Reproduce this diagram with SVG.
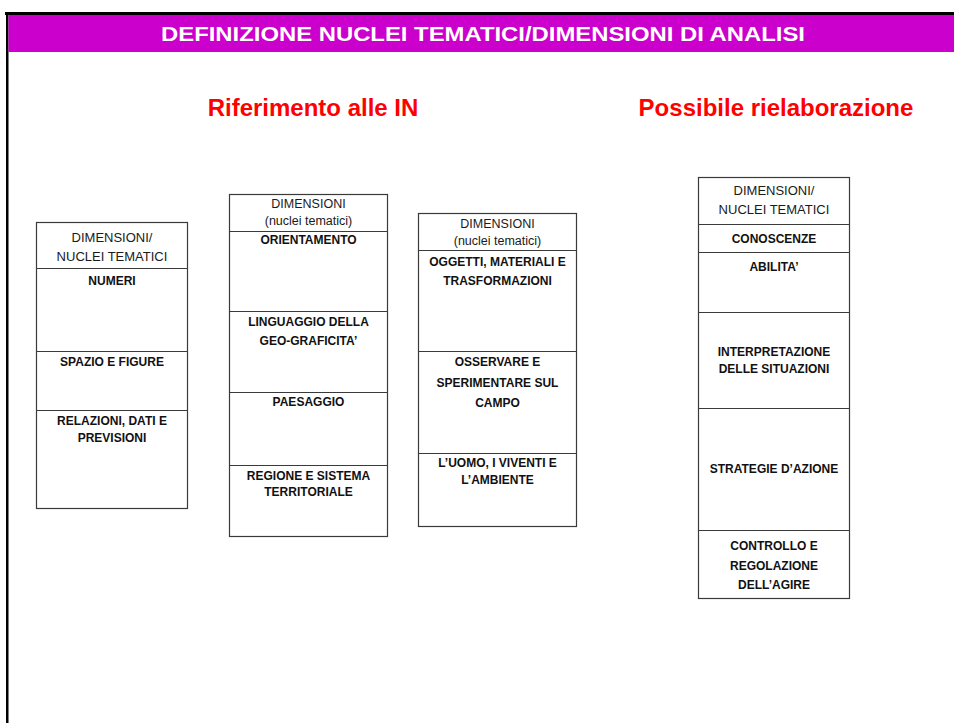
<svg xmlns="http://www.w3.org/2000/svg" width="954" height="723" viewBox="0 0 954 723">
<style>
.box{fill:#fff;stroke:#3a3a3a;stroke-width:1.2}
.div{stroke:#3a3a3a;stroke-width:1.2}
.h{font-family:"Liberation Sans",Arial,sans-serif;font-size:13px;fill:#1a1a1a;text-anchor:middle}
.hs{font-family:"Liberation Sans",Arial,sans-serif;font-size:12.5px;fill:#1a1a1a;text-anchor:middle}
.b{font-family:"Liberation Sans",Arial,sans-serif;font-size:12px;font-weight:bold;fill:#111;text-anchor:middle}
.t{font-family:"Liberation Sans",Arial,sans-serif;font-size:24px;font-weight:bold;fill:#ff0000;text-anchor:middle}
</style>
<rect x="0" y="0" width="954" height="723" fill="#fff"/>
<g id="frame">
<rect x="5" y="12" width="949" height="3" fill="#000"/>
<rect x="6" y="12" width="2.5" height="711" fill="#000"/>
<rect x="8.5" y="15" width="945.5" height="37" fill="#cc00cc"/>
<text x="483" y="41" font-family="Liberation Sans,Arial,sans-serif" font-size="21" font-weight="bold" fill="#fff" text-anchor="middle" textLength="644" lengthAdjust="spacingAndGlyphs">DEFINIZIONE NUCLEI TEMATICI/DIMENSIONI DI ANALISI</text>
</g>
<g id="title-left"><text class="t" x="313" y="116">Riferimento alle IN</text></g>
<g id="title-right"><text class="t" x="776" y="116">Possibile rielaborazione</text></g>

<g id="table1">
<rect class="box" x="36.5" y="222.5" width="151" height="286"/>
<line class="div" x1="36.5" y1="268.5" x2="187.5" y2="268.5"/>
<line class="div" x1="36.5" y1="351.5" x2="187.5" y2="351.5"/>
<line class="div" x1="36.5" y1="410.5" x2="187.5" y2="410.5"/>
<text class="h" x="112" y="242">DIMENSIONI/</text>
<text class="h" x="112" y="261">NUCLEI TEMATICI</text>
<text class="b" x="112" y="285">NUMERI</text>
<text class="b" x="112" y="366">SPAZIO E FIGURE</text>
<text class="b" x="112" y="425">RELAZIONI, DATI E</text>
<text class="b" x="112" y="442">PREVISIONI</text>
</g>

<g id="table2">
<rect class="box" x="229.5" y="194.5" width="158" height="342"/>
<line class="div" x1="229.5" y1="231.5" x2="387.5" y2="231.5"/>
<line class="div" x1="229.5" y1="311.5" x2="387.5" y2="311.5"/>
<line class="div" x1="229.5" y1="392.5" x2="387.5" y2="392.5"/>
<line class="div" x1="229.5" y1="465.5" x2="387.5" y2="465.5"/>
<text class="hs" x="308.5" y="208">DIMENSIONI</text>
<text class="hs" x="308.5" y="225">(nuclei tematici)</text>
<text class="b" x="308.5" y="244">ORIENTAMENTO</text>
<text class="b" x="308.5" y="326">LINGUAGGIO DELLA</text>
<text class="b" x="308.5" y="345">GEO-GRAFICITA’</text>
<text class="b" x="308.5" y="406">PAESAGGIO</text>
<text class="b" x="308.5" y="480">REGIONE E SISTEMA</text>
<text class="b" x="308.5" y="496">TERRITORIALE</text>
</g>

<g id="table3">
<rect class="box" x="418.5" y="213.5" width="158" height="313"/>
<line class="div" x1="418.5" y1="250.5" x2="576.5" y2="250.5"/>
<line class="div" x1="418.5" y1="351.5" x2="576.5" y2="351.5"/>
<line class="div" x1="418.5" y1="453.5" x2="576.5" y2="453.5"/>
<text class="hs" x="497.5" y="228">DIMENSIONI</text>
<text class="hs" x="497.5" y="245">(nuclei tematici)</text>
<text class="b" x="497.5" y="266">OGGETTI, MATERIALI E</text>
<text class="b" x="497.5" y="285">TRASFORMAZIONI</text>
<text class="b" x="497.5" y="366">OSSERVARE E</text>
<text class="b" x="497.5" y="387">SPERIMENTARE SUL</text>
<text class="b" x="497.5" y="407">CAMPO</text>
<text class="b" x="497.5" y="467">L’UOMO, I VIVENTI E</text>
<text class="b" x="497.5" y="484">L’AMBIENTE</text>
</g>

<g id="table4">
<rect class="box" x="698.5" y="177.5" width="151" height="421"/>
<line class="div" x1="698.5" y1="224.5" x2="849.5" y2="224.5"/>
<line class="div" x1="698.5" y1="252.5" x2="849.5" y2="252.5"/>
<line class="div" x1="698.5" y1="312.5" x2="849.5" y2="312.5"/>
<line class="div" x1="698.5" y1="408.5" x2="849.5" y2="408.5"/>
<line class="div" x1="698.5" y1="530.5" x2="849.5" y2="530.5"/>
<text class="h" x="774" y="195">DIMENSIONI/</text>
<text class="h" x="774" y="214">NUCLEI TEMATICI</text>
<text class="b" x="774" y="243">CONOSCENZE</text>
<text class="b" x="774" y="271">ABILITA’</text>
<text class="b" x="774" y="356">INTERPRETAZIONE</text>
<text class="b" x="774" y="373">DELLE SITUAZIONI</text>
<text class="b" x="774" y="473">STRATEGIE D’AZIONE</text>
<text class="b" x="774" y="550">CONTROLLO E</text>
<text class="b" x="774" y="570">REGOLAZIONE</text>
<text class="b" x="774" y="589">DELL’AGIRE</text>
</g>
</svg>
